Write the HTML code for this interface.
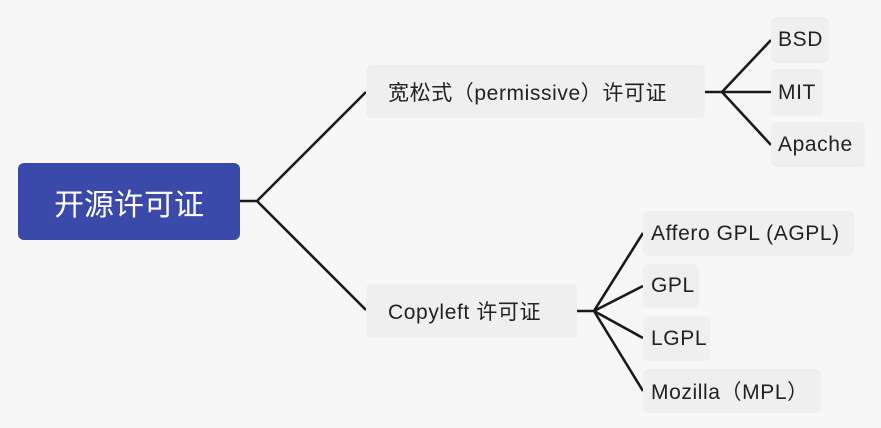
<!DOCTYPE html>
<html><head><meta charset="utf-8"><style>
body{margin:0;width:881px;height:428px;background:#f7f7f7;position:relative;overflow:hidden;font-family:"Liberation Sans","Noto Sans CJK SC",sans-serif;}
.n{position:absolute;background:#efefef;border-radius:5px;color:#222;font-size:21px;letter-spacing:0.6px;display:flex;align-items:center;box-sizing:border-box;white-space:nowrap;}
svg{position:absolute;left:0;top:0}
</style></head><body>
<svg width="881" height="428"><g stroke="#1a1a1a" stroke-width="2.6" fill="none">
<path d="M240 201H257L366 92M257 201L366 310"/>
<path d="M705 92H771M722 92L771 40M722 92L771 145"/>
<path d="M577 311H594L643 233M594 311L643 286M594 311L643 338M594 311L643 391"/>
</g></svg>
<div class="n" style="left:18px;top:163px;width:222px;height:77px;background:#3a49aa;color:#fff;font-size:30px;letter-spacing:0;justify-content:center;border-radius:6px">开源许可证</div>
<div class="n" style="left:366px;top:65px;width:339px;height:53px;padding-left:22px">宽松式（permissive）许可证</div>
<div class="n" style="left:366px;top:284px;width:211px;height:54px;padding-left:22px">Copyleft 许可证</div>
<div class="n" style="left:771px;top:17px;width:58px;height:46px;padding-left:7px">BSD</div>
<div class="n" style="left:771px;top:69px;width:52px;height:47px;padding-left:7px">MIT</div>
<div class="n" style="left:771px;top:122px;width:94px;height:45px;padding-left:7px">Apache</div>
<div class="n" style="left:643px;top:211px;width:211px;height:45px;padding-left:8px">Affero GPL (AGPL)</div>
<div class="n" style="left:643px;top:264px;width:56px;height:44px;padding-left:8px">GPL</div>
<div class="n" style="left:643px;top:316px;width:67px;height:45px;padding-left:8px">LGPL</div>
<div class="n" style="left:643px;top:369px;width:178px;height:44px;padding-left:8px">Mozilla（MPL）</div>
</body></html>
